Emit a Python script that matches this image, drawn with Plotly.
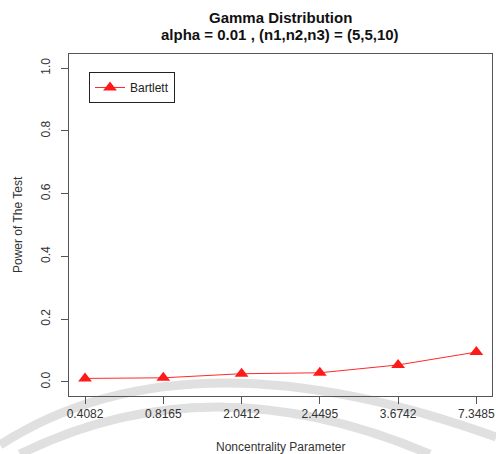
import plotly.graph_objects as go

categories = ["0.4082", "0.8165", "2.0412", "2.4495", "3.6742", "7.3485"]
bartlett = [0.011, 0.013, 0.026, 0.029, 0.054, 0.095]
y_ticks = [0.0, 0.2, 0.4, 0.6, 0.8, 1.0]
y_ticklabels = ["0.0", "0.2", "0.4", "0.6", "0.8", "1.0"]

xpos = list(range(1, len(categories) + 1))

FONT = "Liberation Sans, Arial, sans-serif"
axis_font = dict(family=FONT, size=12, color="#333333")

fig = go.Figure()
fig.add_trace(go.Scatter(
    x=xpos, y=bartlett, mode="lines+markers", name="Bartlett",
    line=dict(color="#ff2a2a", width=1),
    marker=dict(symbol="triangle-up", size=12, color="#ff1a1a"),
))

# faint watermark arcs
fig.add_shape(type="path", xref="paper", yref="paper", layer="below",
              path="M -0.163,-0.143 Q 0.276,0.2075 1.01,-0.12",
              line=dict(color="#e0e0e0", width=9))
fig.add_shape(type="path", xref="paper", yref="paper", layer="below",
              path="M -0.116,-0.17 Q 0.332,0.106 0.853,-0.17",
              line=dict(color="#e0e0e0", width=9))

# plot area: x 69..492, y 54..396 (height 342)
def py(p):
    return (396 - p) / 342.0

def px(p):
    return (p - 69) / 423.0

annotations = [
    dict(text="<b>Gamma Distribution</b>", x=px(280), y=py(17), xref="paper", yref="paper",
         showarrow=False, xanchor="center", yanchor="middle",
         font=dict(family=FONT, size=15, color="#111111")),
    dict(text="<b>alpha = 0.01 , (n1,n2,n3) = (5,5,10)</b>", x=px(280), y=py(35),
         xref="paper", yref="paper", showarrow=False, xanchor="center", yanchor="middle",
         font=dict(family=FONT, size=15, color="#111111")),
    dict(text="Noncentrality Parameter", x=px(280), y=py(447), xref="paper", yref="paper",
         showarrow=False, xanchor="center", yanchor="middle", font=axis_font),
    dict(text="Power of The Test", x=px(18), y=py(225), xref="paper", yref="paper",
         showarrow=False, xanchor="center", yanchor="middle", textangle=-90, font=axis_font),
]

fig.update_layout(
    width=496, height=454,
    margin=dict(l=69, r=4, t=54, b=58, autoexpand=False),
    paper_bgcolor="white", plot_bgcolor="rgba(0,0,0,0)",
    font=axis_font,
    annotations=annotations,
    showlegend=True,
    legend=dict(
        x=px(89), y=py(72), xanchor="left", yanchor="top",
        bordercolor="#222222", borderwidth=1, bgcolor="white",
        font=dict(family=FONT, size=12, color="#222222"),
        itemwidth=30,
    ),
    xaxis=dict(
        range=[0.795, 6.2], tickmode="array", tickvals=xpos, ticktext=categories,
        showgrid=False, zeroline=False, showline=True, mirror=True, automargin=False,
        linecolor="#555555", linewidth=1, ticks="outside", ticklen=7,
        tickcolor="#555555", tickfont=axis_font,
    ),
    yaxis=dict(
        range=[-0.045, 1.045], tickmode="array", tickvals=y_ticks, ticktext=y_ticklabels,
        tickangle=-90, ticklabelstandoff=6,
        showgrid=False, zeroline=False, showline=True, mirror=True, automargin=False,
        linecolor="#555555", linewidth=1, ticks="outside", ticklen=7,
        tickcolor="#555555", tickfont=axis_font,
    ),
)

fig.write_html("out.html", config={"displayModeBar": False})

# remove the browser's default body margin so the figure sits at (0,0)
with open("out.html", "r", encoding="utf-8") as f:
    html = f.read()
html = html.replace("<body>", '<body style="margin:0;padding:0;overflow:hidden">', 1)
with open("out.html", "w", encoding="utf-8") as f:
    f.write(html)
